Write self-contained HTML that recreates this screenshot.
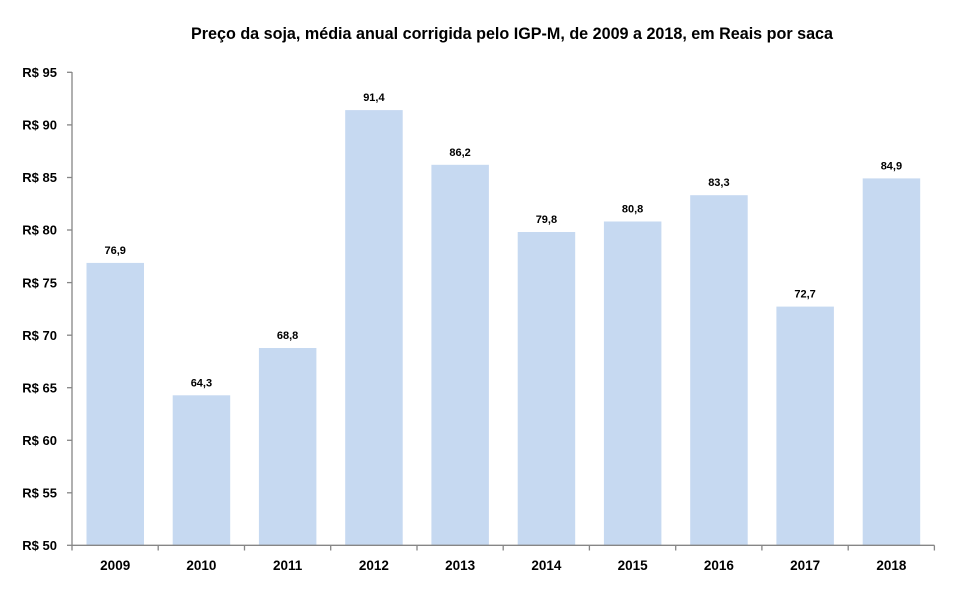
<!DOCTYPE html>
<html><head><meta charset="utf-8"><style>
html,body{margin:0;padding:0;background:#fff;}
svg{display:block;}
text{font-family:"Liberation Sans",Arial,sans-serif;font-weight:bold;fill:#000;}
</style></head><body>
<svg width="961" height="594" viewBox="0 0 961 594" xmlns="http://www.w3.org/2000/svg">
<rect width="961" height="594" fill="#fff"/>
<text x="512" y="39" font-size="16.5" text-anchor="middle" textLength="642" lengthAdjust="spacingAndGlyphs">Preço da soja, média anual corrigida pelo IGP-M, de 2009 a 2018, em Reais por saca</text>
<g fill="#C6D9F1">
<rect x="86.5" y="262.9" width="57.5" height="282.4"/>
<rect x="172.7" y="395.3" width="57.5" height="150"/>
<rect x="258.9" y="348.0" width="57.5" height="197.3"/>
<rect x="345.2" y="110.1" width="57.5" height="435.2"/>
<rect x="431.4" y="164.8" width="57.5" height="380.5"/>
<rect x="517.7" y="232.0" width="57.5" height="313.3"/>
<rect x="603.9" y="221.5" width="57.5" height="323.8"/>
<rect x="690.2" y="195.2" width="57.5" height="350.1"/>
<rect x="776.4" y="306.6" width="57.5" height="238.7"/>
<rect x="862.7" y="178.4" width="57.5" height="366.9"/>
</g>
<g stroke="#868686" stroke-width="1.3" fill="none">
<line x1="72" y1="72" x2="72" y2="545.3"/>
<line x1="72" y1="545.3" x2="934.4" y2="545.3"/>
<line x1="67" y1="72.3" x2="72" y2="72.3"/>
<line x1="67" y1="124.9" x2="72" y2="124.9"/>
<line x1="67" y1="177.5" x2="72" y2="177.5"/>
<line x1="67" y1="230.0" x2="72" y2="230.0"/>
<line x1="67" y1="282.6" x2="72" y2="282.6"/>
<line x1="67" y1="335.2" x2="72" y2="335.2"/>
<line x1="67" y1="387.7" x2="72" y2="387.7"/>
<line x1="67" y1="440.3" x2="72" y2="440.3"/>
<line x1="67" y1="492.8" x2="72" y2="492.8"/>
<line x1="67" y1="545.3" x2="72" y2="545.3"/>
<line x1="72" y1="545.3" x2="72" y2="550.5"/>
<line x1="158.2" y1="545.3" x2="158.2" y2="550.5"/>
<line x1="244.5" y1="545.3" x2="244.5" y2="550.5"/>
<line x1="330.7" y1="545.3" x2="330.7" y2="550.5"/>
<line x1="417.0" y1="545.3" x2="417.0" y2="550.5"/>
<line x1="503.2" y1="545.3" x2="503.2" y2="550.5"/>
<line x1="589.4" y1="545.3" x2="589.4" y2="550.5"/>
<line x1="675.7" y1="545.3" x2="675.7" y2="550.5"/>
<line x1="761.9" y1="545.3" x2="761.9" y2="550.5"/>
<line x1="848.2" y1="545.3" x2="848.2" y2="550.5"/>
<line x1="934.4" y1="545.3" x2="934.4" y2="550.5"/>
</g>
<g font-size="13" text-anchor="end">
<text x="57" y="77">R$ 95</text>
<text x="57" y="129.6">R$ 90</text>
<text x="57" y="182.2">R$ 85</text>
<text x="57" y="234.7">R$ 80</text>
<text x="57" y="287.3">R$ 75</text>
<text x="57" y="339.9">R$ 70</text>
<text x="57" y="392.4">R$ 65</text>
<text x="57" y="445">R$ 60</text>
<text x="57" y="497.5">R$ 55</text>
<text x="57" y="550">R$ 50</text>
</g>
<g font-size="13.5" text-anchor="middle">
<text x="115.2" y="570">2009</text>
<text x="201.4" y="570">2010</text>
<text x="287.6" y="570">2011</text>
<text x="373.9" y="570">2012</text>
<text x="460.1" y="570">2013</text>
<text x="546.4" y="570">2014</text>
<text x="632.6" y="570">2015</text>
<text x="718.9" y="570">2016</text>
<text x="805.1" y="570">2017</text>
<text x="891.4" y="570">2018</text>
</g>
<g font-size="11" text-anchor="middle">
<text x="115.2" y="254">76,9</text>
<text x="201.4" y="386.3">64,3</text>
<text x="287.6" y="339">68,8</text>
<text x="373.9" y="101.1">91,4</text>
<text x="460.1" y="155.8">86,2</text>
<text x="546.4" y="223">79,8</text>
<text x="632.6" y="212.5">80,8</text>
<text x="718.9" y="186.2">83,3</text>
<text x="805.1" y="297.6">72,7</text>
<text x="891.4" y="169.4">84,9</text>
</g>
</svg>
</body></html>
